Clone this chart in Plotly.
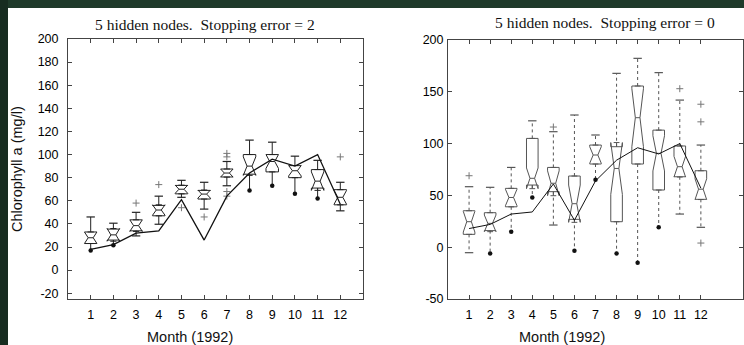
import plotly.graph_objects as go

W, H = 744, 345

months = list(range(1, 13))
tick_months = [str(m) for m in months]
observed = [18, 22, 32, 34, 61, 26, 64, 84, 96, 90, 100, 57]

# Left panel: Stopping error = 2
l_q1 = [23, 26, 34, 47, 66, 61.5, 80.6, 83, 85, 80, 71, 56.5]
l_med = [28, 30.5, 38.5, 52, 70, 65.8, 84, 90, 94, 86, 77, 63]
l_q3 = [33, 35.5, 43.5, 56, 73.3, 69, 87.5, 100, 100, 90.4, 87, 69.6]
l_upper = [46, 40.6, 50, 64, 77.7, 76, 94, 112.5, 110.7, 98.6, 95, 76]
l_lower = [17, 21.5, 29.6, 39.7, 63, 52.8, 73, 69, 73, 66, 62, 51.3]
l_notch = [5, 5.5, 5, 4.5, 3.5, 3.5, 3.5, 8, 6, 4.5, 8, 6]
l_dots = [17, 21.5, None, None, None, None, None, 69, 73, 66, 62, None]
l_out_x = [3, 4, 5, 6, 7, 7, 7, 7, 12]
l_out_y = [58, 74, 54, 46, 101, 98, 68, 64, 98]

# Right panel: Stopping error = 0
r_q1 = [12.4, 16, 39, 60, 53.6, 26.9, 80.3, 24.6, 80.3, 55.2, 68, 46.2]
r_med = [24.6, 23, 48, 66.5, 61.7, 42, 89, 76, 125, 90.6, 77.7, 56]
r_q3 = [35.2, 33.3, 56.8, 105, 77, 68.7, 98.6, 97, 155.6, 113, 97.7, 73.8]
r_upper = [58.4, 57.8, 77, 122, 111.5, 127.6, 108.3, 167.8, 182.3, 168.5, 142, 98.6]
r_lower = [-5.3, -6, 15, 48, 21.4, -3.4, 65, -6, -15, 19.2, 32, 19.2]
r_notch = [10, 8, 8, 10, 12, 18, 8, 25, 28, 17, 10, 10]
r_dots = [None, -6, 15, 48, None, -3.4, 65, -6, -15, 19.2, None, None]
r_out_x = [1, 5, 11, 12, 12, 12]
r_out_y = [69, 116, 153, 138, 121, 4]

left_ticks = list(range(-20, 201, 20))
left_ticktext = [str(v) for v in left_ticks]
right_ticks = list(range(-50, 201, 50))
right_ticktext = [str(v) for v in right_ticks]

fig = go.Figure()


def add_panel(q1, med, q3, upper, lower, notch, dots, out_x, out_y,
              xa, ya, box_color, wdash, lw):
    fig.add_trace(go.Box(
        x=months, q1=q1, median=med, q3=q3, lowerfence=q1, upperfence=q3,
        notchspan=notch, notched=True, notchwidth=0.3, width=0.55,
        line=dict(color=box_color, width=1), fillcolor="rgba(255,255,255,0)",
        boxpoints=False, xaxis=xa, yaxis=ya, showlegend=False, hoverinfo="skip"))
    wx, wy = [], []
    for i, m in enumerate(months):
        wx += [m, m, None, m, m, None]
        wy += [q3[i], upper[i], None, q1[i], lower[i], None]
    fig.add_trace(go.Scatter(x=wx, y=wy, mode="lines",
                             line=dict(color=box_color, width=1, dash=wdash),
                             xaxis=xa, yaxis=ya, showlegend=False, hoverinfo="skip"))
    cx = months + [m for m, d in zip(months, dots) if d is None]
    cy = upper + [lo for lo, d in zip(lower, dots) if d is None]
    fig.add_trace(go.Scatter(x=cx, y=cy, mode="markers",
                             marker=dict(symbol="line-ew", size=6,
                                         line=dict(color=box_color, width=1.2)),
                             xaxis=xa, yaxis=ya, showlegend=False, hoverinfo="skip"))
    dx = [m for m, d in zip(months, dots) if d is not None]
    dy = [d for d in dots if d is not None]
    fig.add_trace(go.Scatter(x=dx, y=dy, mode="markers",
                             marker=dict(symbol="circle", size=4.5, color="#111"),
                             xaxis=xa, yaxis=ya, showlegend=False, hoverinfo="skip"))
    fig.add_trace(go.Scatter(x=out_x, y=out_y, mode="markers",
                             marker=dict(symbol="cross-thin", size=5,
                                         line=dict(color="#777", width=1)),
                             xaxis=xa, yaxis=ya, showlegend=False, hoverinfo="skip"))
    fig.add_trace(go.Scatter(x=months, y=observed, mode="lines",
                             line=dict(color="#111", width=lw),
                             xaxis=xa, yaxis=ya, showlegend=False, hoverinfo="skip"))


add_panel(l_q1, l_med, l_q3, l_upper, l_lower, l_notch, l_dots, l_out_x, l_out_y,
          "x", "y", "#222", "solid", 1.3)
add_panel(r_q1, r_med, r_q3, r_upper, r_lower, r_notch, r_dots, r_out_x, r_out_y,
          "x2", "y2", "#555", "dot", 1.0)

tickfont = dict(family="Liberation Sans, Arial, sans-serif", size=12.5, color="#000")
axcommon = dict(showline=True, linecolor="#444", linewidth=1, mirror="ticks",
                ticks="inside", ticklen=4, tickcolor="#444", showgrid=False,
                zeroline=False, tickfont=tickfont, automargin=False)

green = "#1f3a2a"
fig.update_layout(
    template="none", showlegend=False,
    width=W, height=H, margin=dict(l=0, r=0, t=0, b=0, pad=0), autosize=False,
    paper_bgcolor="white", plot_bgcolor="white",
    xaxis=dict(domain=[68 / W, 363 / W], range=[0, 13], tickvals=months,
               ticktext=tick_months, anchor="y", ticklabelstandoff=4, **axcommon),
    yaxis=dict(domain=[46 / H, 306 / H], range=[-25, 200], tickvals=left_ticks,
               ticktext=left_ticktext, anchor="x", ticklabelstandoff=6, **axcommon),
    xaxis2=dict(domain=[448 / W, 743 / W], range=[0, 14], tickvals=months,
                ticktext=tick_months, anchor="y2", ticklabelstandoff=4, **axcommon),
    yaxis2=dict(domain=[46 / H, 305 / H], range=[-50, 200], tickvals=right_ticks,
                ticktext=right_ticktext, anchor="x2", ticklabelstandoff=1, **axcommon),
    shapes=[
        dict(type="rect", xref="paper", yref="paper", x0=-0.05, x1=1.05,
             y0=(H - 8) / H, y1=1.05, fillcolor=green, line=dict(width=0), layer="below"),
        dict(type="rect", xref="paper", yref="paper", x0=-0.05, x1=8 / W,
             y0=-0.05, y1=1.05, fillcolor="#172c20", line=dict(width=0), layer="below"),
    ],
)

serif = dict(family="Liberation Serif, Times New Roman, serif", size=15.5, color="#111")
sans = dict(family="Liberation Sans, Arial, sans-serif", size=14.5, color="#111")
anns = [
    dict(text="5 hidden nodes.&nbsp; Stopping error = 2", x=205 / W, y=(H - 24) / H,
         font=serif),
    dict(text="5 hidden nodes.&nbsp; Stopping error = 0", x=605 / W, y=(H - 22) / H,
         font=serif),
    dict(text="Month (1992)", x=190 / W, y=(H - 337) / H, font=sans),
    dict(text="Month (1992)", x=562 / W, y=(H - 337) / H, font=sans),
    dict(text="Chlorophyll a (mg/l)", x=17 / W, y=(H - 169) / H, font=sans,
         textangle=-90),
]
for a in anns:
    fig.add_annotation(xref="paper", yref="paper", showarrow=False,
                       xanchor="center", yanchor="middle", **a)

fig.write_html("out.html")
